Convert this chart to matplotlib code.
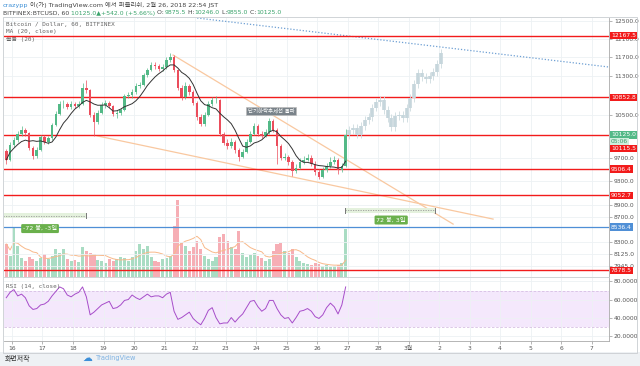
import matplotlib
matplotlib.use('Agg')
import matplotlib.pyplot as plt
from matplotlib.patches import Rectangle
from matplotlib.ticker import NullLocator
import numpy as np
import pandas as pd

plt.rcParams['font.family'] = ['DejaVu Sans', 'Noto Sans CJK KR']
MONO = ['DejaVu Sans Mono', 'Noto Sans CJK KR']

# 3 hour candles, first one starts Feb 15 18:00 (JST)
first_open = 9820
closes = [9670, 9940, 10030, 10150, 10220, 10160, 9890, 9740, 9850, 10090,
          10000, 10070, 10320, 10530, 10720, 10720, 10670, 10720, 10680, 10720,
          11050, 11000, 10510, 10370, 10550, 10700, 10740, 10680, 10530, 10550,
          10600, 10880, 10900, 10960, 11090, 11110, 11310, 11420, 11520, 11500,
          11440, 11480, 11630, 11700, 11420, 11050, 10860, 11090, 10960, 10740,
          10470, 10340, 10510, 10720, 10800, 10800, 10150, 9980, 9920, 10000,
          9850, 9720, 9810, 10000, 10150, 10300, 10150, 10110, 10180, 10390,
          10220, 9920, 9710, 9720, 9630, 9480, 9530, 9630, 9670, 9710,
          9600, 9460, 9370, 9490, 9560, 9630, 9670, 9490, 9560, 10125]
highs = [9870, 9990, 10080, 10200, 10290, 10260, 10190, 9920, 9900, 10130,
         10120, 10110, 10360, 10580, 10790, 10800, 10770, 10780, 10760, 10790,
         11150, 11200, 11030, 10560, 10600, 10760, 10800, 10790, 10710, 10600,
         10650, 10930, 10970, 11020, 11150, 11170, 11360, 11470, 11580, 11600,
         11540, 11540, 11690, 11790, 11730, 11450, 11100, 11160, 11120, 11000,
         10780, 10520, 10560, 10780, 10860, 10890, 10830, 10190, 10050, 10060,
         10040, 9880, 9860, 10050, 10200, 10360, 10330, 10200, 10240, 10450,
         10420, 10250, 9960, 9800, 9760, 9660, 9590, 9700, 9740, 9780,
         9750, 9640, 9500, 9540, 9620, 9720, 9740, 9700, 9610, 10246]
lows = [9600, 9640, 9900, 9990, 10110, 10100, 9850, 9690, 9700, 9820,
        9960, 9960, 10040, 10290, 10500, 10650, 10620, 10630, 10640, 10650,
        10700, 10950, 10460, 10110, 10330, 10520, 10650, 10640, 10480, 10450,
        10500, 10580, 10840, 10850, 10920, 11040, 11080, 11280, 11390, 11450,
        11390, 11400, 11450, 11600, 11380, 11000, 10800, 10830, 10900, 10700,
        10400, 10290, 10300, 10480, 10690, 10740, 10100, 9930, 9860, 9880,
        9800, 9650, 9700, 9790, 9970, 10120, 10100, 10060, 10080, 10150,
        10180, 9600, 9660, 9660, 9580, 9390, 9440, 9500, 9600, 9640,
        9560, 9410, 9330, 9350, 9460, 9520, 9600, 9420, 9450, 9540]
volumes = [33, 21, 50, 31, 19, 16, 20, 18, 16, 19,
           23, 18, 21, 28, 24, 28, 18, 16, 17, 15,
           30, 26, 24, 23, 17, 16, 14, 18, 16, 18,
           20, 19, 16, 20, 26, 33, 28, 31, 20, 16,
           15, 18, 19, 21, 51, 77, 34, 31, 26, 30,
           36, 28, 21, 18, 16, 20, 40, 43, 36, 30,
           28, 46, 24, 20, 22, 24, 21, 19, 16, 18,
           26, 33, 34, 26, 24, 28, 20, 16, 14, 13,
           12, 14, 13, 11, 12, 10, 11, 12, 14, 48]
rsi_values = [62, 68, 71, 64, 66, 62, 53, 49, 50, 54,
              55, 58, 64, 69, 74, 72, 65, 63, 66, 68,
              74, 63, 43, 46, 50, 54, 56, 58, 50, 51,
              54, 59, 60, 65, 62, 60, 63, 66, 63, 64,
              64, 62, 66, 68, 47, 38, 40, 43, 46, 39,
              35, 32, 39, 48, 51, 40, 33, 34, 34, 40,
              35, 40, 44, 51, 58, 59, 52, 47, 50, 59,
              59, 50, 43, 39, 40, 34, 40, 47, 48, 50,
              47, 41, 39, 43, 51, 56, 52, 44, 54, 74]
# projected bars pattern (ghost) after the last candle
ghost_closes = [10220, 10260, 10130, 10300, 10410, 10470, 10650, 10760, 10800, 10600,
                10450, 10280, 10490, 10510, 10450, 10650, 10840, 11130, 11360, 11270,
                11230, 11290, 11380, 11550, 11780]

red_levels = [12167.5, 10852.8, 10115.5, 9506.4, 9052.7, 7878.5]
blue_level = 8536.4
last_price = 10125.0
price_ticks = [12500, 12100, 11700, 11300, 10500, 9700, 9300, 8900, 8700, 8300, 8125, 7945]
rsi_ticks = [80, 60, 40, 20]
day_labels = ['16', '17', '18', '19', '20', '21', '22', '23', '24', '25', '26', '27', '28',
              '3월', '2', '3', '4', '5', '6', '7']

# drawings: (days since Feb 16 00:00, price)
down_line = [(5.28, 11740), (14.46, 8585)]
low_line = [(2.79, 10108), (15.77, 8665)]
blue_dotted = [(6.07, 12573), (19.57, 11482)]
left_range = (-0.3, 2.43, 8677, 8767)
right_range = (10.92, 13.87, 8767, 8841)

header1 = [('crazypp', '#3c8fd6'), (' 이(가) TradingView.com 에서 퍼블리쉬, 2월 26, 2018 22:54 JST', '#444444')]
header2 = [('BITFINEX:BTCUSD, 60 ', '#444444'), ('10125.0▲+542.0 (+5.66%)', '#3aa36b'),
           (' O:', '#444444'), ('9875.5', '#3aa36b'), (' H:', '#444444'), ('10246.0', '#3aa36b'),
           (' L:', '#444444'), ('9855.0', '#3aa36b'), (' C:', '#444444'), ('10125.0', '#3aa36b')]

GREEN = '#53b987'
RED = '#eb4d5c'
GRID = '#edf1f4'
TXT = '#555555'

n = len(closes)
t = (3 * np.arange(n) - 4.5) / 24.0
opens = [first_open] + closes[:-1]
up = np.array(closes) >= np.array(opens)

fig = plt.figure(figsize=(6.4, 3.66), dpi=100)
fig.patch.set_facecolor('white')
fig.patches.append(Rectangle((0, 0), 1, 14 / 366, transform=fig.transFigure,
                             fc='#eef1f4', ec='none', zorder=0))
fig.patches.append(Rectangle((3 / 640, 1 - 353 / 366), 634 / 640, 336 / 366,
                             transform=fig.transFigure, fill=False, ec='#c9cdd1', lw=0.6))

ax = fig.add_axes([4 / 640, 1 - 277 / 366, 605 / 640, 259 / 366])
axv = ax.twinx()
axr = fig.add_axes([4 / 640, 1 - 341 / 366, 605 / 640, 63 / 366])
ax.set_zorder(axv.get_zorder() + 1)
ax.patch.set_visible(False)

xlim = (-0.262, 19.57)
ax.set_yscale('log')
ax.set_xlim(*xlim)
ax.set_ylim(7784, 12573)
ax.yaxis.set_minor_locator(NullLocator())
ax.set_yticks(price_ticks)
ax.set_yticklabels(['%.1f' % p for p in price_ticks])
ax.yaxis.tick_right()
ax.set_xticks(range(20))
ax.tick_params(axis='x', length=0, labelbottom=False)
ax.tick_params(axis='y', labelsize=4.3, labelcolor=TXT, length=2, width=0.5, color='#999999', pad=1.5)
ax.grid(True, color=GRID, lw=0.6)
for s in ['top', 'left']:
    ax.spines[s].set_visible(False)
ax.spines['right'].set_color('#aaaaaa')
ax.spines['right'].set_linewidth(0.6)
ax.spines['bottom'].set_color('#c9cdd1')
ax.spines['bottom'].set_linewidth(0.6)

# volume
axv.set_ylim(0, 259)
axv.set_yticks([])
for s in axv.spines.values():
    s.set_visible(False)
axv.bar(t, volumes, width=0.1, color=np.where(up, '#a9dcc3', '#f6aeb5'), lw=0)
vol_ma = pd.Series(volumes).rolling(7, min_periods=1).mean()
axv.plot(t, vol_ma, color='#f8b98a', lw=0.7)

# horizontal levels
for lv in red_levels:
    ax.axhline(lv, color='#f21b1b', lw=1.0, zorder=3)
ax.axhline(blue_level, color='#4f8fd6', lw=0.9, zorder=3)

# trend lines
ax.plot(*zip(*down_line), color='#f9c8a0', lw=0.9, zorder=2)
ax.plot(*zip(*low_line), color='#f9c8a0', lw=0.9, zorder=2)
ax.plot(*zip(*blue_dotted), color='#6d9fd3', lw=0.9, ls=(0, (1, 1.5)), zorder=2)

# candles
cols = np.where(up, GREEN, RED)
ax.vlines(t, lows, highs, color=cols, lw=0.5, zorder=4)
body_lo = np.minimum(opens, closes)
body_hi = np.maximum(opens, closes)
ax.bar(t, body_hi - body_lo, bottom=body_lo, width=0.085, color=cols, lw=0, zorder=5)

# moving average
ma = pd.Series(closes).rolling(7, min_periods=1).mean()
ax.plot(t, ma, color='#333333', lw=0.7, zorder=6)

# ghost projection
gt = (3 * np.arange(n, n + len(ghost_closes)) - 4.5) / 24.0
gopen = [closes[-1]] + ghost_closes[:-1]
glo = np.minimum(gopen, ghost_closes)
ghi = np.maximum(gopen, ghost_closes)
ax.vlines(gt, glo * 0.993, ghi * 1.007, color='#ccdade', lw=0.6, zorder=4)
ax.vlines(gt, glo, ghi, color='#c6d6dc', lw=2.6, zorder=4)

# range measurement boxes
for (t0, t1, p0, p1) in [left_range, right_range]:
    ax.add_patch(Rectangle((t0, p0), t1 - t0, p1 - p0, fc='#e4f1dd', ec='none', zorder=3))
    pm = (p0 * p1) ** 0.5
    ax.plot([t0, t1], [pm, pm], color='#9a9a9a', lw=0.6, ls=(0, (1.5, 1.5)), zorder=4)
    ax.plot([t0, t0], [p0, p1], color='#777777', lw=0.7, zorder=4)
    ax.plot([t1, t1], [p0, p1], color='#777777', lw=0.7, zorder=4)
lab_kw = dict(fontsize=4.5, color='white', ha='center', va='center', zorder=8,
              bbox=dict(boxstyle='round,pad=0.3,rounding_size=0.2', fc='#6ab04c', ec='none'))
ax.text(0.92, 8514, '-72 봉, -3일', **lab_kw)
ax.text(12.43, 8650, '72 봉, 3일', **lab_kw)

# note box
ax.text(8.49, 10583, '단기하락추세선 돌파', fontsize=3.9, color='white', ha='center', va='center', zorder=8,
        bbox=dict(boxstyle='square,pad=0.25', fc='#7a838a', ec='#bbbbbb', lw=0.5))

# price tags on the scale
ytr = ax.get_yaxis_transform()
def tag(price, text, fc, dy=0, tc='white'):
    ax.annotate(text, xy=(1.003, price), xycoords=ytr, xytext=(0, dy), textcoords='offset points',
                fontsize=4.3, color=tc, ha='left', va='center', annotation_clip=False, zorder=10,
                bbox=dict(boxstyle='square,pad=0.2', fc=fc, ec='none'))
for lv in red_levels:
    if lv != 10115.5:
        tag(lv, '%.1f' % lv, '#f21b1b')
tag(blue_level, '%.1f' % blue_level, '#4f8fd6')
tag(last_price, '%.1f' % last_price, '#53b987')
tag(last_price, '05:06', '#cfeedd', dy=-4.6, tc='#3a9a6a')
tag(10115.5, '10115.5', '#f21b1b', dy=-9.4)

ax.text(0.004, 0.975, 'Bitcoin / Dollar, 60, BITFINEX', transform=ax.transAxes, fontsize=4.3,
        color='#666666', family=MONO, va='center', zorder=9)
ax.text(0.004, 0.948, 'MA (20, close)', transform=ax.transAxes, fontsize=4.3,
        color='#666666', family=MONO, va='center', zorder=9)
ax.text(0.004, 0.917, '볼륨 (20)', transform=ax.transAxes, fontsize=4.3,
        color='#666666', family=MONO, va='center', zorder=2)

# RSI pane
axr.set_xlim(*xlim)
axr.set_ylim(14.0, 80.7 + 3 / 0.943)
axr.axhspan(30, 70, color='#f4e8fc', lw=0, zorder=0)
axr.axhline(70, color='#d7bfe3', lw=0.6, ls=(0, (3, 2)))
axr.axhline(30, color='#d7bfe3', lw=0.6, ls=(0, (3, 2)))
axr.plot(t, rsi_values, color='#a64dc9', lw=0.7)
axr.set_xticks(range(20))
axr.set_xticklabels(day_labels)
axr.set_yticks(rsi_ticks)
axr.set_yticklabels(['%.4f' % v for v in rsi_ticks])
axr.yaxis.tick_right()
axr.tick_params(axis='x', labelsize=4.3, labelcolor=TXT, length=2, width=0.5, color='#999999', pad=1.5)
axr.tick_params(axis='y', labelsize=4.3, labelcolor=TXT, length=2, width=0.5, color='#999999', pad=1.5)
axr.grid(True, color=GRID, lw=0.6)
for s in ['top', 'left']:
    axr.spines[s].set_visible(False)
for s in ['right', 'bottom']:
    axr.spines[s].set_color('#aaaaaa')
    axr.spines[s].set_linewidth(0.6)
axr.text(0.004, 0.87, 'RSI (14, close)', transform=axr.transAxes, fontsize=4.3,
         color='#666666', family=MONO, va='center')

# header lines, pieces placed one after another and fitted to the target width
renderer = fig.canvas.get_renderer()
def header_line(parts, x0, y, width, size=5.0):
    texts = []
    x = x0
    for s, c in parts:
        tx = fig.text(x / 640, 1 - y / 366, s, fontsize=size, color=c, va='center', ha='left')
        x += tx.get_window_extent(renderer=renderer).width
        texts.append(tx)
    k = width / (x - x0)
    x = x0
    for tx in texts:
        tx.set_fontsize(size * k)
        tx.set_x(x / 640)
        x += tx.get_window_extent(renderer=renderer).width

header_line(header1, 3, 5, 215)
header_line(header2, 3, 13, 279)

# footer
fig.text(5 / 640, 1 - 358 / 366, '화면저작', fontsize=5, color='#333333', va='center')
fig.text(82 / 640, 1 - 358 / 366, '☁', fontsize=7, color='#3d8fd8', va='center', family=['DejaVu Sans'])
fig.text(96 / 640, 1 - 358 / 366, 'TradingView', fontsize=4.8, color='#7fb3e3', va='center')

fig.savefig('out.png', dpi=100)
